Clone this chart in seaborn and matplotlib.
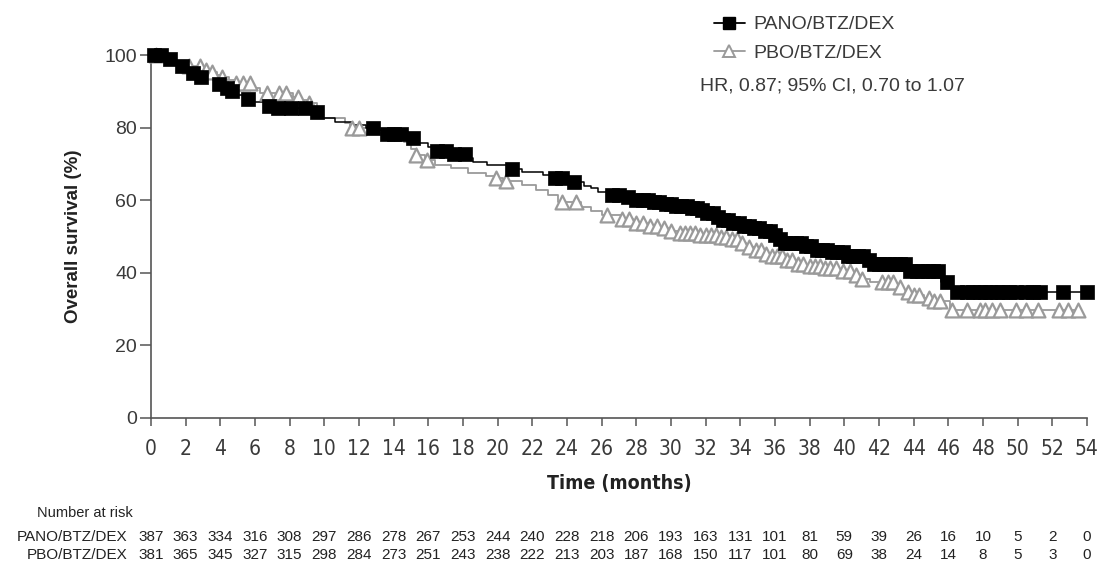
import numpy as np
import pandas as pd
import matplotlib
matplotlib.use("Agg")
import matplotlib.pyplot as plt
from matplotlib.lines import Line2D
from matplotlib import font_manager
import seaborn as sns

# Kaplan-Meier step estimates (time in months, survival in %)
pano_t = [0, 0.9, 1.2, 1.6, 2.0, 2.4, 2.8, 3.6, 3.9, 4.3, 4.6, 5.0, 5.4, 5.8, 6.5, 6.9,
          9.4, 9.9, 10.6, 11.6, 12.4, 12.9, 13.4, 14.9, 15.4, 16.0, 16.4, 17.4, 18.3,
          18.6, 19.4, 20.6, 21.4, 22.6, 23.1, 24.0, 25.0, 25.4, 25.8, 26.6, 27.2, 27.8,
          28.8, 29.6, 30.3, 31.0, 31.6, 32.0, 32.6, 33.0, 33.6, 34.2, 34.6, 35.2, 35.8,
          36.2, 36.6, 37.6, 38.4, 39.2, 40.2, 41.2, 41.6, 43.7, 45.6, 46.2, 54.0]
pano_s = [100, 99, 98, 97, 96, 95, 94, 93, 92, 91, 90, 89, 88, 87, 86, 85.4,
          84.3, 82.6, 81.6, 80.7, 80.0, 79.3, 78.2, 77.0, 75.7, 74.7, 73.5, 72.6, 71.5,
          70.5, 69.7, 68.6, 67.8, 67.0, 66.2, 65.0, 64.0, 63.4, 62.2, 61.5, 60.8, 60.0,
          59.5, 59.0, 58.4, 57.8, 57.2, 56.4, 55.4, 54.6, 53.8, 53.0, 52.3, 51.4, 50.4,
          49.4, 48.2, 47.4, 46.4, 45.6, 44.6, 43.6, 42.4, 40.5, 37.5, 34.8, 34.8]
pano_cens = [0.2, 0.6, 1.1, 1.8, 2.4, 2.9, 3.9, 4.4, 4.7, 5.6, 6.8, 7.3, 8.1, 8.9, 9.6,
             12.8, 13.6, 14.0, 14.4, 15.1, 16.5, 17.0, 17.5, 18.1, 20.8, 23.3, 23.7,
             24.4, 26.6, 27.0, 27.5, 28.0, 28.4, 28.7, 29.0, 29.3, 29.7, 30.0, 30.3,
             30.6, 30.9, 31.2, 31.5, 31.8, 32.1, 32.4, 32.7, 33.0, 33.3, 33.6, 33.9,
             34.2, 34.5, 34.8, 35.1, 35.4, 35.7, 36.0, 36.3, 36.6, 36.9, 37.2, 37.5,
             37.8, 38.1, 38.4, 38.7, 39.0, 39.3, 39.6, 39.9, 40.2, 40.5, 40.8, 41.1,
             41.4, 41.7, 42.0, 42.3, 42.6, 42.9, 43.2, 43.5, 43.8, 44.2, 44.5, 44.8,
             45.1, 45.4, 45.9, 46.5, 47.1, 47.4, 47.8, 48.1, 48.4, 48.8, 49.1, 49.5,
             49.9, 50.5, 50.9, 51.3, 52.6, 54.0]

pbo_t = [0, 0.4, 0.8, 1.5, 2.2, 3.0, 3.3, 3.8, 4.1, 4.5, 4.8, 5.8, 6.3, 8.2, 8.6, 9.0,
         9.6, 9.8, 11.2, 11.5, 12.5, 13.0, 13.8, 14.6, 15.0, 15.3, 15.8, 16.4, 17.3,
         18.3, 19.3, 19.8, 20.3, 21.4, 22.2, 22.9, 23.5, 24.8, 25.4, 26.0, 27.1, 27.8,
         28.6, 29.3, 29.8, 30.4, 31.5, 32.8, 33.4, 33.9, 34.3, 34.8, 35.3, 35.8, 36.5,
         37.2, 37.8, 38.8, 39.6, 40.4, 40.9, 41.5, 42.9, 43.4, 43.8, 44.6, 45.0, 46.1,
         53.5]
pbo_s = [100, 99, 98.4, 97.8, 97.0, 96.0, 95.3, 94.5, 93.9, 93.0, 92.3, 91.0, 89.5,
         88.5, 87.5, 86.8, 84.5, 82.6, 81.2, 79.9, 79.2, 78.5, 77.5, 76.0, 74.0, 72.4,
         71.0, 69.7, 68.9, 67.5, 66.6, 66.0, 65.3, 64.2, 62.8, 61.4, 59.5, 58.2, 57.0,
         55.9, 54.8, 53.8, 53.0, 52.3, 51.5, 51.0, 50.4, 49.9, 49.2, 48.2, 47.2, 46.2,
         45.3, 44.6, 43.5, 42.5, 42.0, 41.4, 40.6, 39.4, 38.2, 37.4, 36.2, 34.8, 34.0,
         33.0, 32.2, 29.7, 29.7]
pbo_cens = [0.3, 2.2, 2.8, 3.2, 3.5, 4.1, 4.9, 5.3, 5.7, 6.7, 7.4, 7.8, 8.5, 9.1, 11.6,
            12.0, 15.3, 15.9, 19.9, 20.5, 23.7, 24.5, 26.3, 27.2, 27.6, 28.0, 28.4,
            28.8, 29.2, 29.6, 30.0, 30.5, 30.8, 31.1, 31.4, 31.7, 32.0, 32.3, 32.6,
            32.9, 33.2, 33.5, 33.8, 34.1, 34.5, 34.9, 35.2, 35.5, 35.8, 36.1, 36.4,
            36.7, 37.0, 37.3, 37.6, 38.0, 38.3, 38.6, 38.9, 39.2, 39.5, 39.9, 40.3,
            40.7, 41.0, 42.2, 42.5, 42.8, 43.2, 43.7, 44.0, 44.3, 44.9, 45.2, 45.5,
            46.2, 47.1, 47.8, 48.1, 48.5, 49.0, 49.9, 50.5, 51.2, 52.4, 52.9, 53.5]

# Number at risk every 2 months
risk_times = list(range(0, 55, 2))
pano_risk = [387, 363, 334, 316, 308, 297, 286, 278, 267, 253, 244, 240, 228, 218,
             206, 193, 163, 131, 101, 81, 59, 39, 26, 16, 10, 5, 2, 0]
pbo_risk = [381, 365, 345, 327, 315, 298, 284, 273, 251, 243, 238, 222, 213, 203,
            187, 168, 150, 117, 101, 80, 69, 38, 24, 14, 8, 5, 3, 0]

arm_names = ["PANO/BTZ/DEX", "PBO/BTZ/DEX"]
hr_text = "HR, 0.87; 95% CI, 0.70 to 1.07"

sns.set_theme(style="ticks")
plt.rcParams["font.family"] = ["Liberation Sans", "DejaVu Sans"]

BLACK = "#000000"
GREY = "#9a9a9a"
TXT = "#3a3a3a"

# A narrow face for the time axis
narrow = font_manager.FontProperties(family="DejaVu Sans", stretch="condensed")


def surv_at(times, surv, t):
    idx = np.searchsorted(np.asarray(times), t, side="right") - 1
    return np.asarray(surv)[idx]


curves = pd.DataFrame({
    "time": pano_t + pbo_t,
    "surv": pano_s + pbo_s,
    "arm": [arm_names[0]] * len(pano_t) + [arm_names[1]] * len(pbo_t),
})
cens_pano = pd.DataFrame({"time": pano_cens, "surv": surv_at(pano_t, pano_s, pano_cens)})
cens_pbo = pd.DataFrame({"time": pbo_cens, "surv": surv_at(pbo_t, pbo_s, pbo_cens)})

fig = plt.figure(figsize=(10.98, 5.65), dpi=100)
ax = fig.add_axes([151 / 1098, 147 / 565, 936 / 1098, 363 / 565])

sns.lineplot(data=curves[curves.arm == arm_names[1]], x="time", y="surv",
             drawstyle="steps-post", estimator=None, color=GREY, lw=1.3, ax=ax)
sns.lineplot(data=curves[curves.arm == arm_names[0]], x="time", y="surv",
             drawstyle="steps-post", estimator=None, color=BLACK, lw=1.1, ax=ax)
sns.scatterplot(data=cens_pbo, x="time", y="surv", marker="^", s=100,
                facecolor="white", edgecolor=GREY, linewidth=1.6, ax=ax,
                clip_on=False, zorder=3)
sns.scatterplot(data=cens_pano, x="time", y="surv", marker="s", s=95,
                color=BLACK, edgecolor=BLACK, linewidth=0.5, ax=ax,
                clip_on=False, zorder=4)

ax.set_xlim(0, 54)
ax.set_ylim(0, 100)
ax.set_xticks(risk_times)
ax.set_yticks(range(0, 101, 20))
sns.despine(ax=ax)
for sp in ("left", "bottom"):
    ax.spines[sp].set_color("#555555")
    ax.spines[sp].set_linewidth(1.2)
ax.tick_params(axis="both", direction="out", color="#555555", width=1.1)
ax.tick_params(axis="x", length=6, pad=9, labelcolor=TXT)
ax.tick_params(axis="y", length=8, pad=2, labelsize=14, labelcolor=TXT)
for lab in ax.get_xticklabels():
    lab.set_fontproperties(narrow)
    lab.set_fontsize(15)

ax.set_xlabel("Time (months)", fontproperties=narrow, fontsize=14,
              fontweight="bold", color="#222222", labelpad=11)
ax.set_ylabel("Overall survival (%)", fontsize=13.5, fontweight="bold",
              color="#222222", labelpad=16)

handles = [
    Line2D([], [], color=BLACK, lw=1.3, marker="s", markersize=9,
           markerfacecolor=BLACK, markeredgecolor=BLACK),
    Line2D([], [], color=GREY, lw=1.3, marker="^", markersize=9,
           markerfacecolor="white", markeredgecolor=GREY, markeredgewidth=1.4),
]
fig.legend(handles, arm_names, loc="upper left",
           bbox_to_anchor=(706 / 1098, 1 - 8 / 565), frameon=False,
           fontsize=14, handlelength=1.6, handletextpad=0.45, labelspacing=0.55,
           borderaxespad=0, labelcolor=TXT)
fig.text(700 / 1098, 1 - 86 / 565, hr_text, fontsize=14, color=TXT,
         ha="left", va="center")

# Number-at-risk table under the axis
fig.text(37 / 1098, 1 - 513 / 565, "Number at risk", fontsize=10.5,
         color="#222222", ha="left", va="center")
for row_y, name, counts in ((537, arm_names[0], pano_risk),
                            (555, arm_names[1], pbo_risk)):
    yfig = 1 - row_y / 565
    fig.text(127 / 1098, yfig, name, fontsize=11, color="#222222",
             ha="right", va="center")
    for t, n in zip(risk_times, counts):
        xd = ax.transData.transform((t, 0))[0]
        xf = fig.transFigure.inverted().transform((xd, 0))[0]
        fig.text(xf, yfig, str(n), fontsize=11, color="#222222",
                 ha="center", va="center")

fig.savefig("out.png", dpi=100, facecolor="white")
